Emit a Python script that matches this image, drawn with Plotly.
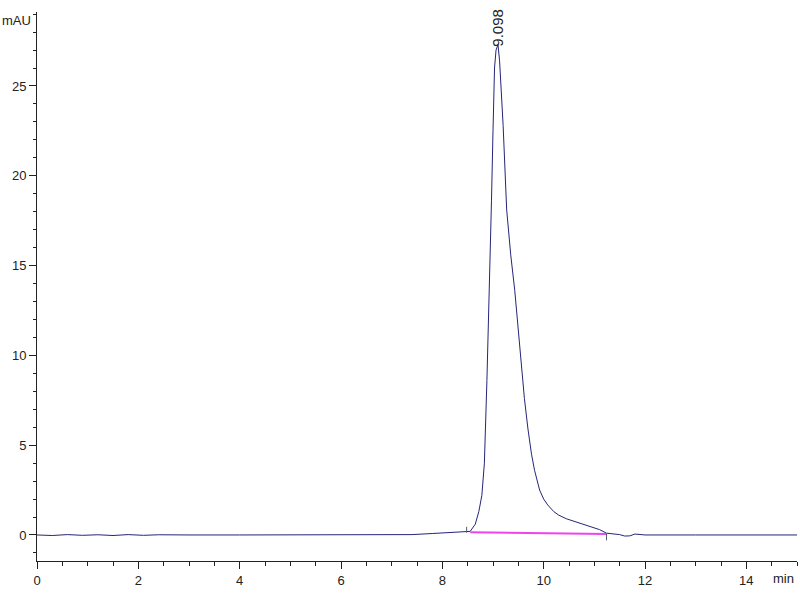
import plotly.graph_objects as go

# Chromatogram data (time in min, absorbance in mAU)
time_min = [0, 0.3, 0.6, 0.9, 1.2, 1.5, 1.8, 2.1, 2.4, 2.7, 3.0, 4.0, 5.0, 6.0, 7.0,
            7.4, 7.8, 8.2, 8.45, 8.55, 8.65, 8.72, 8.78, 8.83, 8.88, 8.93, 8.97,
            9.0, 9.03, 9.06, 9.098, 9.13, 9.17, 9.2, 9.27, 9.35, 9.43, 9.5, 9.55,
            9.62, 9.69, 9.76, 9.82, 9.92, 10.0, 10.08, 10.2, 10.3, 10.45, 10.65,
            10.8, 10.97, 11.1, 11.24, 11.4, 11.5, 11.6, 11.7, 11.8, 12.0, 13.0,
            14.0, 15.0]
signal_mau = [0.0, -0.03, 0.02, -0.02, 0.01, -0.03, 0.02, -0.02, 0.01, -0.01, 0.0,
              0.0, 0.0, 0.0, 0.0,
              0.02, 0.08, 0.14, 0.18, 0.2, 0.6, 1.3, 2.2, 4.0, 8.6, 13.5, 18.6,
              22.5, 26.0, 27.0, 27.3, 26.4, 24.5, 22.8, 18.1, 15.6, 13.6, 11.3, 9.5,
              7.6, 5.9, 4.5, 3.6, 2.5, 2.0, 1.67, 1.3, 1.1, 0.9, 0.72,
              0.6, 0.45, 0.3, 0.1, 0.05, 0.02, -0.06, -0.05, 0.05, 0.0, 0.0,
              0.0, 0.0]

# Integration baseline
base_time = [8.55, 11.24]
base_mau = [0.15, 0.05]

# Peak label
peak_time = 9.098
peak_mau = 27.3
peak_label = "9.098"

FONT = "Liberation Sans, Arial"

fig = go.Figure()
fig.add_trace(go.Scatter(x=time_min, y=signal_mau, mode="lines",
                         line=dict(color="#25257a", width=1), hoverinfo="skip"))
fig.add_trace(go.Scatter(x=base_time, y=base_mau, mode="lines",
                         line=dict(color="#ee44ee", width=2), hoverinfo="skip"))
# integration start/end markers
fig.add_trace(go.Scatter(x=[8.48, 8.48, None, 11.24, 11.24],
                         y=[0.12, 0.45, None, 0.08, -0.3], mode="lines",
                         line=dict(color="#555577", width=1), hoverinfo="skip"))

fig.add_annotation(x=peak_time, y=peak_mau, text=peak_label, textangle=-90,
                   showarrow=False, yanchor="bottom", xanchor="center", yshift=-4,
                   font=dict(family=FONT, size=15, color="#222222"))

fig.add_annotation(x=0, y=1, xref="paper", yref="paper", text="mAU",
                   showarrow=False, xanchor="right", yanchor="middle",
                   xshift=-4, yshift=-8,
                   font=dict(family=FONT, size=13, color="#222222"))
fig.add_annotation(x=1, y=0, xref="paper", yref="paper", text="min",
                   showarrow=False, xanchor="right", yanchor="top",
                   xshift=-1, yshift=-8,
                   font=dict(family=FONT, size=13, color="#222222"))

fig.update_layout(
    width=800, height=600,
    margin=dict(l=37, r=3, t=12, b=39, autoexpand=False),
    paper_bgcolor="white", plot_bgcolor="white",
    showlegend=False,
    font=dict(family=FONT, size=13, color="#222222"),
)
fig.update_xaxes(range=[0, 15], tickvals=[0, 2, 4, 6, 8, 10, 12, 14],
                 ticks="outside", ticklen=7, tickcolor="#222", showline=True,
                 linecolor="#222", linewidth=1, showgrid=False, zeroline=False,
                 automargin=False,
                 minor=dict(dtick=0.5, ticks="outside", ticklen=4, tickcolor="#222"),
                 tickfont=dict(size=13))
fig.update_yaxes(range=[-1.45, 29.12], tickvals=[0, 5, 10, 15, 20, 25],
                 ticks="outside", ticklen=7, tickcolor="#222", showline=True,
                 linecolor="#222", linewidth=1, showgrid=False, zeroline=False,
                 automargin=False,
                 minor=dict(dtick=1, ticks="outside", ticklen=3, tickcolor="#222"),
                 tickfont=dict(size=13))

fig.write_html("out.html",
               config={"displayModeBar": False},
               post_script="document.body.style.margin='0';"
                           "document.body.style.overflow='hidden';")
